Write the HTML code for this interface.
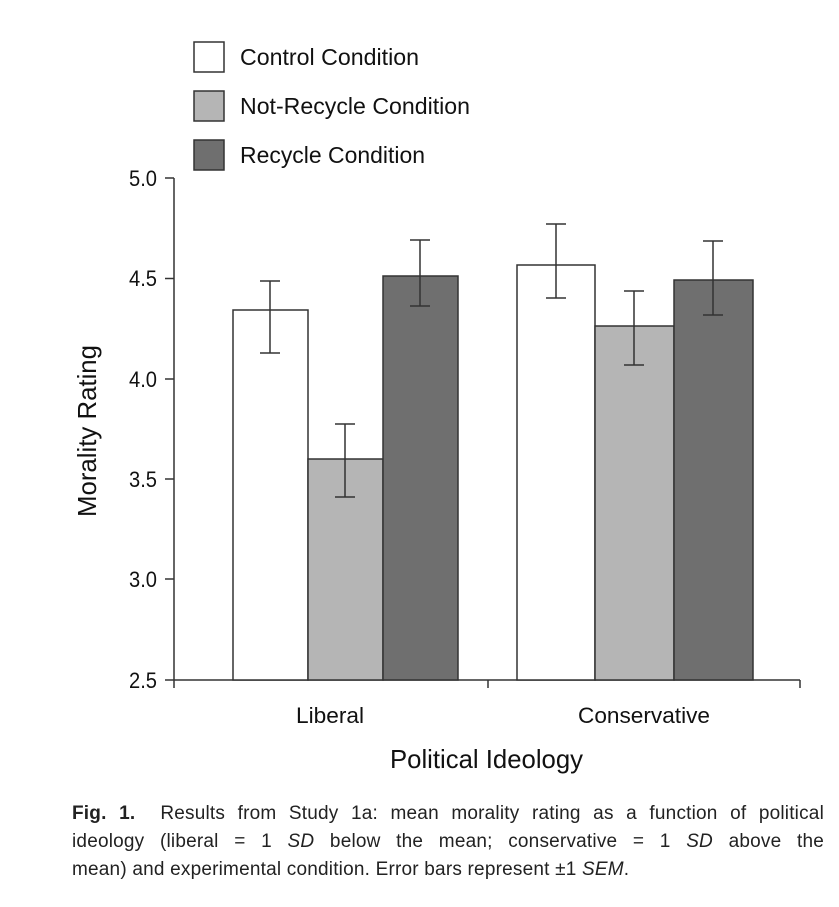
<!DOCTYPE html>
<html><head><style>
body{margin:0;background:#fff;width:839px;height:907px;overflow:hidden}
svg text{font-family:"Liberation Sans",sans-serif;fill:#111}
.cap{position:absolute;left:72px;width:752px;font-family:"Liberation Sans",sans-serif;font-size:19px;letter-spacing:0.2px;color:#222;white-space:nowrap}
.j{text-align:justify;text-align-last:justify}
</style></head><body>
<svg width="839" height="790" style="position:absolute;left:0;top:0">
<g stroke="#333" stroke-width="1.5" fill="none">
<rect x="194" y="42" width="30" height="30" fill="#fff"/>
<rect x="194" y="91" width="30" height="30" fill="#b5b5b5"/>
<rect x="194" y="140" width="30" height="30" fill="#6f6f6f"/>
</g>
<g font-size="23">
<text x="240" y="65" textLength="179" lengthAdjust="spacingAndGlyphs">Control Condition</text>
<text x="240" y="114" textLength="230" lengthAdjust="spacingAndGlyphs">Not-Recycle Condition</text>
<text x="240" y="163" textLength="185" lengthAdjust="spacingAndGlyphs">Recycle Condition</text>
</g>
<g stroke="#333" stroke-width="1.5" fill="none">
<path d="M174 178V680H800M165 178H174M165 278.5H174M165 379H174M165 479H174M165 579H174M165 680H174M488 680V688M800 680V688M174 680V688"/>
</g>
<g font-size="22" text-anchor="end">
<text x="157" y="186" textLength="28" lengthAdjust="spacingAndGlyphs">5.0</text><text x="157" y="286" textLength="28" lengthAdjust="spacingAndGlyphs">4.5</text><text x="157" y="387" textLength="28" lengthAdjust="spacingAndGlyphs">4.0</text>
<text x="157" y="487" textLength="28" lengthAdjust="spacingAndGlyphs">3.5</text><text x="157" y="587" textLength="28" lengthAdjust="spacingAndGlyphs">3.0</text><text x="157" y="688" textLength="28" lengthAdjust="spacingAndGlyphs">2.5</text>
</g>
<g stroke="#333" stroke-width="1.5">
<rect x="233" y="310" width="75" height="370" fill="#fff"/>
<rect x="308" y="459" width="75" height="221" fill="#b5b5b5"/>
<rect x="383" y="276" width="75" height="404" fill="#6f6f6f"/>
<rect x="517" y="265" width="78" height="415" fill="#fff"/>
<rect x="595" y="326" width="79" height="354" fill="#b5b5b5"/>
<rect x="674" y="280" width="79" height="400" fill="#6f6f6f"/>
<path fill="none" d="M270 281V353M260 281H280M260 353H280
M345 424V497M335 424H355M335 497H355
M420 240V306M410 240H430M410 306H430
M556 224V298M546 224H566M546 298H566
M634 291V365M624 291H644M624 365H644
M713 241V315M703 241H723M703 315H723"/>
</g>
<text x="296" y="723" font-size="22" textLength="68" lengthAdjust="spacingAndGlyphs">Liberal</text>
<text x="578" y="723" font-size="22" textLength="132" lengthAdjust="spacingAndGlyphs">Conservative</text>
<text x="390" y="768" font-size="26" textLength="193" lengthAdjust="spacingAndGlyphs">Political Ideology</text>
<text transform="translate(96,517) rotate(-90)" font-size="26" textLength="172" lengthAdjust="spacingAndGlyphs">Morality Rating</text>
</svg>
<div class="cap j" style="top:803px"><b>Fig. 1.</b>&nbsp; Results from Study 1a: mean morality rating as a function of political</div>
<div class="cap j" style="top:831px">ideology (liberal = 1 <i>SD</i> below the mean; conservative = 1 <i>SD</i> above the</div>
<div class="cap" style="top:859px">mean) and experimental condition. Error bars represent ±1 <i>SEM</i>.</div>
</body></html>
